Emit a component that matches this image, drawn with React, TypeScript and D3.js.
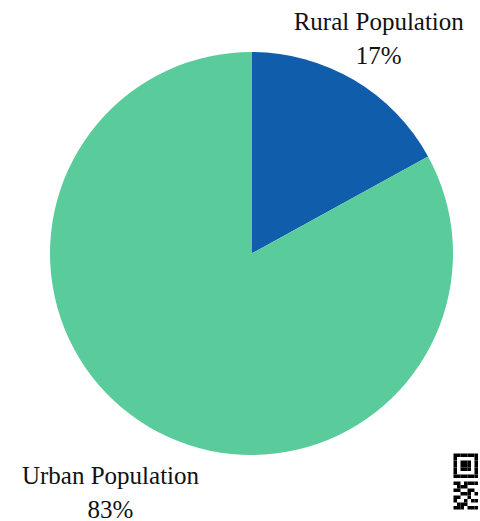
import React from "react";
import * as d3 from "d3";

const categories = ["Rural Population", "Urban Population"];
const shares = [17, 83];
const colors = ["#105dab", "#5acc9c"];
const labelRadius = [250, 277];

// decorative QR-like code (rows of modules)
const qrRows = [
  "1111111",
  "1000001",
  "1011101",
  "1011101",
  "1011101",
  "1000001",
  "1111111",
  "0000000",
  "1101111",
  "0111000",
  "1100110",
  "0011101",
  "1100100",
  "1001011",
  "0111000",
  "1110111",
];

const W = 480;
const H = 521;

export default function App() {
  const cx = 251.5;
  const cy = 253.5;
  const r = 201.5;
  const pie = d3.pie<number>().sort(null).value((d) => d);
  const arcs = pie(shares);
  const arc = d3.arc<d3.PieArcDatum<number>>().innerRadius(0).outerRadius(r);
  const font = "'Liberation Serif', serif";
  const m = 3.5;
  const qx = 453.5;
  const qy = 453.5;
  return (
    <svg width={W} height={H} style={{ position: "absolute", left: 0, top: 0, background: "#fff" }}>
      <g transform={`translate(${cx},${cy})`}>
        {arcs.map((a, i) => (
          <path key={i} d={arc(a) || ""} fill={colors[i]} />
        ))}
        {arcs.map((a, i) => {
          const mid = (a.startAngle + a.endAngle) / 2;
          const x = Math.sin(mid) * labelRadius[i];
          const y = -Math.cos(mid) * labelRadius[i];
          return (
            <text key={i} x={x} y={y} textAnchor="middle" fontFamily={font} fontSize={25} fill="#111">
              <tspan x={x} dy={-8}>{categories[i]}</tspan>
              <tspan x={x} dy={34}>{shares[i]}%</tspan>
            </text>
          );
        })}
      </g>
      <g>
        {qrRows.map((row, ri) =>
          row.split("").map((c, ci) =>
            c === "1" ? (
              <rect key={`${ri}-${ci}`} x={qx + ci * m} y={qy + ri * m} width={m} height={m} fill="#000" />
            ) : null
          )
        )}
      </g>
    </svg>
  );
}
